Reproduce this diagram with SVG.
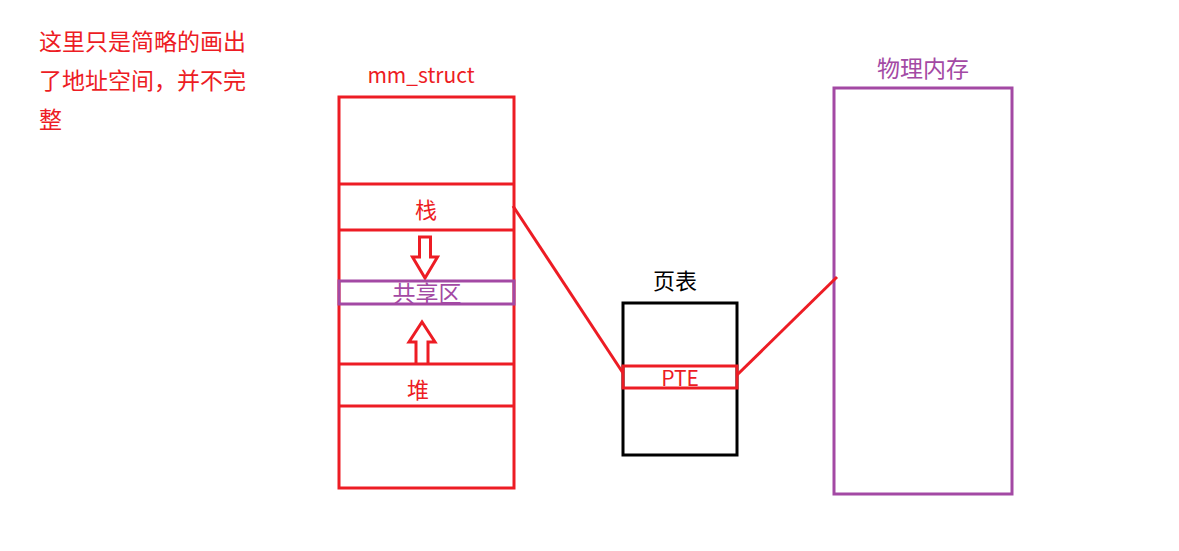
<svg xmlns="http://www.w3.org/2000/svg" width="1179" height="551" viewBox="0 0 1179 551">
<style>
text{font-family:"Microsoft YaHei","Noto Sans CJK SC","Noto Sans",sans-serif;dominant-baseline:central;text-anchor:middle}
.r{fill:#ED1C24}.p{fill:#A349A4}.k{fill:#000}
.rs{fill:none;stroke:#ED1C24;stroke-width:3}
.ps{fill:none;stroke:#A349A4;stroke-width:3}
.ks{fill:none;stroke:#000;stroke-width:3}
</style>
<rect width="1179" height="551" fill="#fff"/>
<g id="note">
<text class="r" x="39" y="40" font-size="23" style="text-anchor:start">这里只是简略的画出</text>
<text class="r" x="39" y="79" font-size="23" style="text-anchor:start">了地址空间，并不完</text>
<text class="r" x="39" y="118" font-size="23" style="text-anchor:start">整</text>
</g>
<g id="mm_struct">
<text class="r" x="421" y="74" font-size="21">mm_struct</text>
<rect class="rs" x="339" y="97" width="175" height="391"/>
<line class="rs" x1="339" y1="184" x2="514" y2="184"/>
<line class="rs" x1="339" y1="230" x2="514" y2="230"/>
<line class="rs" x1="339" y1="364" x2="514" y2="364"/>
<line class="rs" x1="339" y1="406" x2="514" y2="406"/>
<text class="r" x="426" y="208" font-size="22">栈</text>
<text class="r" x="418" y="388" font-size="22">堆</text>
<path class="rs" d="M419.5,237 H430.5 V257 H437.5 L425,278 L412.5,257 H419.5 Z"/>
<path class="rs" d="M416,363 V342 H409 L422,322 L435,342 H428 V363"/>
</g>
<g id="shared">
<rect class="ps" x="339" y="281" width="175" height="23"/>
<text class="p" x="427" y="292" font-size="23">共享区</text>
</g>
<g id="pagetable">
<text class="k" x="675" y="279" font-size="22">页表</text>
<rect class="ks" x="623" y="303" width="114" height="152"/>
<rect class="rs" x="623" y="366" width="114" height="22"/>
<text class="r" x="680" y="377" font-size="21">PTE</text>
</g>
<g id="physmem">
<text class="p" x="923" y="67" font-size="23">物理内存</text>
<rect class="ps" x="834" y="88" width="178" height="406"/>
</g>
<g id="connectors">
<line class="rs" x1="513" y1="206" x2="623" y2="373"/>
<line class="rs" x1="737" y1="375" x2="837" y2="277"/>
</g>
</svg>
